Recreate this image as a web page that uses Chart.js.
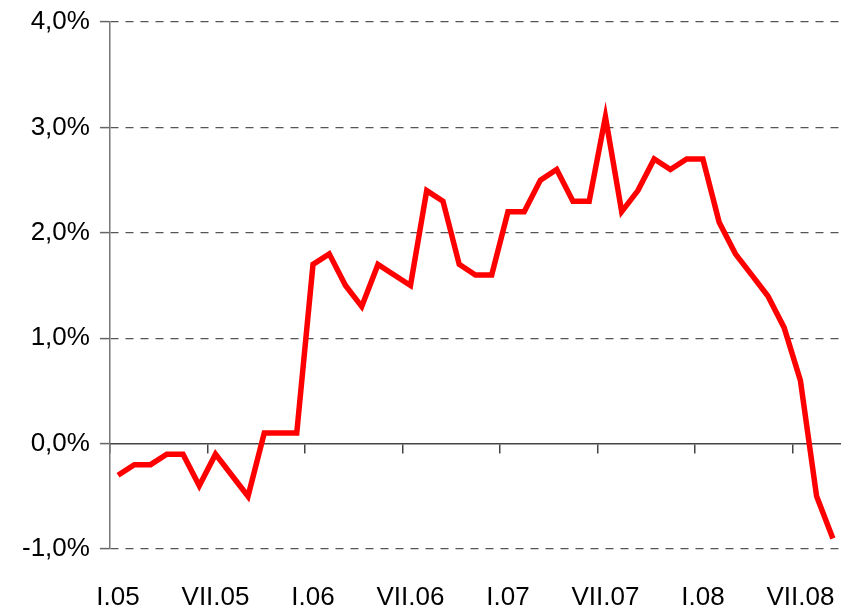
<!DOCTYPE html>
<html>
<head>
<meta charset="utf-8">
<script src="https://cdn.jsdelivr.net/npm/chart.js@4"></script>
<style>
  html, body { margin: 0; padding: 0; background: #fff; overflow: hidden; }
  #wrap { width: 841px; height: 613px; }
</style>
</head>
<body>
<div id="wrap"><canvas id="c" width="841" height="613"></canvas></div>
<script>
// Months (I.05 .. IX.08)
const months = ['I.05','II.05','III.05','IV.05','V.05','VI.05','VII.05','VIII.05','IX.05','X.05','XI.05','XII.05',
                'I.06','II.06','III.06','IV.06','V.06','VI.06','VII.06','VIII.06','IX.06','X.06','XI.06','XII.06',
                'I.07','II.07','III.07','IV.07','V.07','VI.07','VII.07','VIII.07','IX.07','X.07','XI.07','XII.07',
                'I.08','II.08','III.08','IV.08','V.08','VI.08','VII.08','VIII.08','IX.08'];
// Values in %
const values = [-0.3,-0.2,-0.2,-0.1,-0.1,-0.4,-0.1,-0.3,-0.5,0.1,0.1,0.1,
                1.7,1.8,1.5,1.3,1.7,1.6,1.5,2.4,2.3,1.7,1.6,1.6,
                2.2,2.2,2.5,2.6,2.3,2.3,3.1,2.2,2.4,2.7,2.6,2.7,
                2.7,2.1,1.8,1.6,1.4,1.1,0.6,-0.5,-0.9];
const yMin = -1, yMax = 4, yStep = 1;
const labelEvery = 6;

const FONT = "'Liberation Sans', Arial, sans-serif";

new Chart(document.getElementById('c'), {
  type: 'line',
  data: {
    labels: months,
    datasets: [{
      data: values,
      borderColor: '#ff0000',
      borderWidth: 5.5,
      pointRadius: 0,
      tension: 0,
      fill: false
    }]
  },
  options: {
    responsive: false,
    animation: false,
    layout: { padding: { left: 12, right: 0, top: 0, bottom: 64 } },
    plugins: { legend: { display: false }, tooltip: { enabled: false } },
    scales: {
      x: {
        type: 'category',
        position: { y: 0 },
        offset: true,
        grid: {
          offset: true,
          drawOnChartArea: false,
          drawTicks: true,
          tickLength: 9,
          lineWidth: 1.5,
          color: (ctx) => (ctx.index % labelEvery === 0 ? '#444' : 'transparent')
        },
        border: { display: true, color: '#444', width: 1.5 },
        ticks: {
          autoSkip: false,
          maxRotation: 0,
          padding: 0,
          color: '#000',
          font: { family: FONT, size: 26, lineHeight: '290px' },
          callback: function(v, i) { return i % labelEvery === 0 ? this.getLabelForValue(v) : ''; }
        }
      },
      y: {
        min: yMin,
        max: yMax,
        ticks: {
          stepSize: yStep,
          padding: 10,
          color: '#000',
          font: { family: FONT, size: 26, lineHeight: 0.92 },
          callback: (v) => v.toFixed(1).replace('.', ',') + '%'
        },
        grid: {
          drawTicks: true,
          tickLength: 10,
          lineWidth: 1.2,
          color: (ctx) => (ctx.tick && ctx.tick.value === 0 ? 'transparent' : '#555'),
          tickColor: '#666',
          tickWidth: 1.5
        },
        border: { display: true, color: '#777', width: 1.5, dash: [8, 7] }
      }
    }
  }
});
</script>
</body>
</html>
